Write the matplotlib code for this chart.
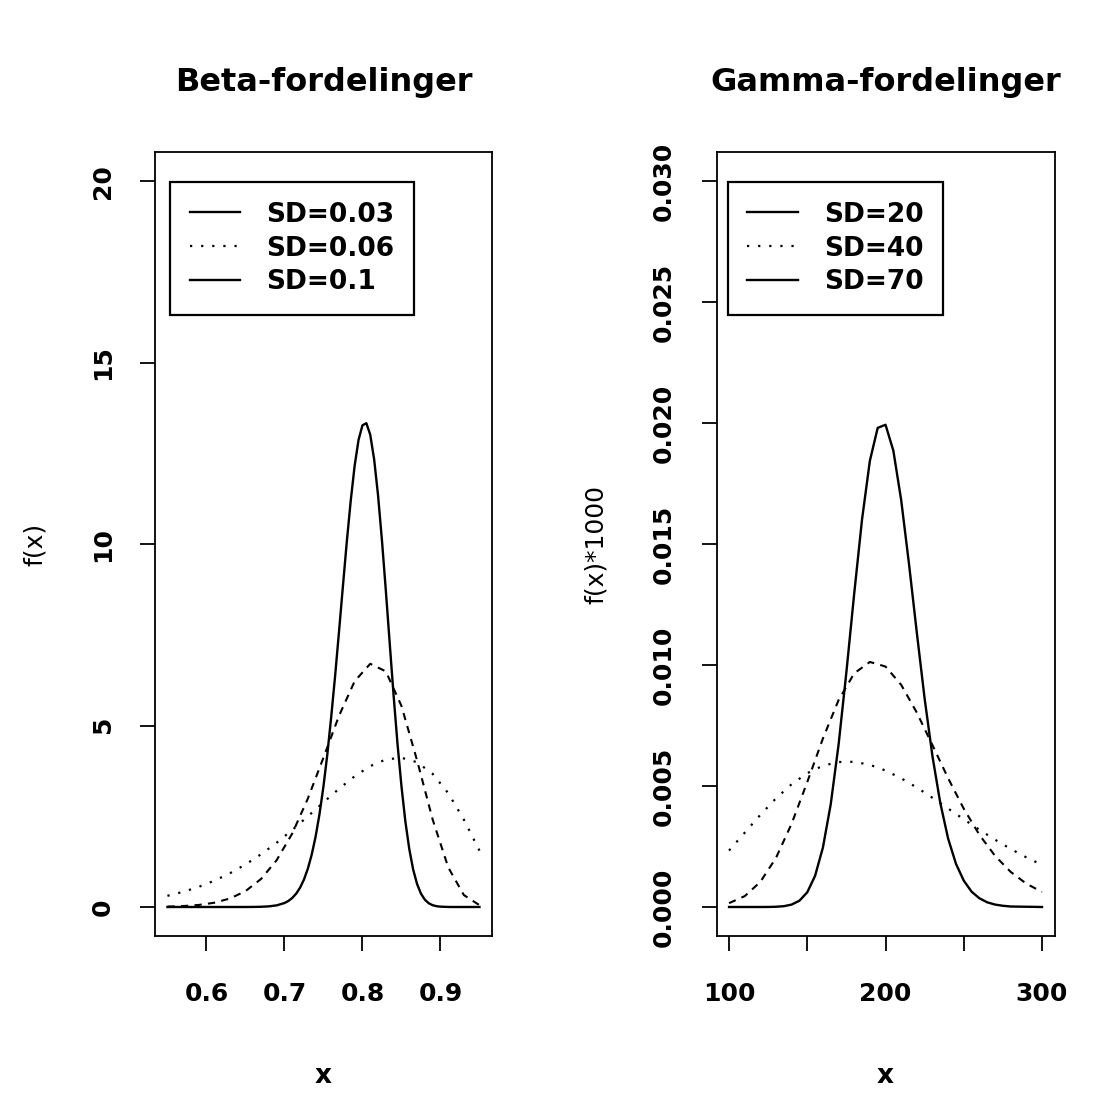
import numpy as np
import matplotlib.pyplot as plt
from matplotlib.lines import Line2D

plt.rcParams['font.family'] = ['DejaVu Sans']
plt.rcParams['axes.linewidth'] = 1.3

#%% Data

# Beta, mean 0.8
beta_x_sd03 = [0.55, 0.60, 0.65, 0.66, 0.67, 0.68, 0.69, 0.70, 0.705, 0.71, 0.715, 0.72,
               0.725, 0.73, 0.735, 0.74, 0.745, 0.75,
               0.755, 0.76, 0.765, 0.77, 0.775, 0.78, 0.785, 0.79, 0.795, 0.80,
               0.805, 0.81, 0.815, 0.82, 0.825, 0.83, 0.835, 0.84, 0.845, 0.85,
               0.855, 0.86, 0.865, 0.87, 0.875, 0.88, 0.885, 0.89, 0.895, 0.90,
               0.91, 0.92, 0.95]
beta_y_sd03 = [0, 0, 0, 0.002, 0.006, 0.017, 0.045, 0.109, 0.166, 0.249, 0.367, 0.531,
               0.756, 1.056, 1.447, 1.944, 2.569, 3.32,
               4.21, 5.25, 6.38, 7.60, 8.85, 10.08, 11.20, 12.16, 12.87, 13.27,
               13.33, 13.01, 12.33, 11.34, 10.10, 8.71, 7.25, 5.81, 4.48, 3.33,
               2.359, 1.60, 1.033, 0.634, 0.368, 0.201, 0.103, 0.049, 0.022, 0.009,
               0.001, 0, 0]

beta_x = [0.55, 0.57, 0.59, 0.61, 0.63, 0.65, 0.67, 0.69, 0.71, 0.73, 0.75,
          0.77, 0.79, 0.81, 0.83, 0.85, 0.87, 0.89, 0.91, 0.93, 0.95]
beta_y_sd06 = [0.0107, 0.0252, 0.056, 0.1175, 0.233, 0.4365, 0.772, 1.289, 2.025, 2.987, 4.115,
               5.269, 6.221, 6.701, 6.491, 5.539, 4.041, 2.410, 1.090, 0.329, 0.0507]
beta_y_sd10 = [0.308, 0.417, 0.553, 0.723, 0.928, 1.171, 1.453, 1.771, 2.122, 2.497, 2.883,
               3.259, 3.602, 3.882, 4.065, 4.112, 3.988, 3.667, 3.135, 2.408, 1.553]
beta_labels = ["SD=0.03", "SD=0.06", "SD=0.1"]

# Gamma, mean 200
gamma_x_sd20 = [100, 120, 125, 130, 135, 140, 145, 150, 155, 160, 165, 170, 175, 180, 185,
                190, 195, 200, 205, 210, 215, 220, 225, 230, 235, 240, 245, 250, 255,
                260, 265, 270, 275, 280, 300]
gamma_y_sd20 = [0, 0, 0.000002, 0.00001, 0.000033, 0.0001, 0.00026, 0.00061, 0.00129,
                0.00246, 0.00425, 0.00671, 0.00971, 0.01296, 0.01602, 0.01844, 0.01980,
                0.01993, 0.01886, 0.01682, 0.01418, 0.01134, 0.00861, 0.00623, 0.00430,
                0.00283, 0.00179, 0.00109, 0.000634, 0.00036, 0.000193, 0.0001,
                0.00005, 0.00002, 0]

gamma_x = [100, 110, 120, 130, 140, 150, 160, 170, 180, 190, 200,
           210, 220, 230, 240, 250, 260, 270, 280, 290, 300]
gamma_y_sd40 = [0.000159, 0.000448, 0.001037, 0.00203, 0.003443, 0.005166, 0.006965,
                0.008551, 0.009657, 0.010127, 0.009937, 0.009182, 0.008034, 0.006688,
                0.005323, 0.004062, 0.002983, 0.002114, 0.00145, 0.000964, 0.000623]
gamma_y_sd70 = [0.002332, 0.00307, 0.003806, 0.004489, 0.005074, 0.00553, 0.005838,
                0.005992, 0.006, 0.005876, 0.005641, 0.005319, 0.004936, 0.004512,
                0.004069, 0.003625, 0.003192, 0.002781, 0.002399, 0.002051, 0.001738]
gamma_labels = ["SD=20", "SD=40", "SD=70"]

#%% Plotting

solid = dict(color='k', lw=1.7, linestyle='-')
dashed = dict(color='k', lw=1.5, linestyle=(0, (3.5, 3)))
dotted = dict(color='k', lw=1.6, linestyle=(0, (1, 4)))

fig = plt.figure(figsize=(11.14, 11.13), dpi=100)
ax1 = fig.add_axes([0.1391, 0.159, 0.3025, 0.7044])
ax2 = fig.add_axes([0.6432, 0.159, 0.3034, 0.7044])

ax1.plot(beta_x_sd03, beta_y_sd03, **solid)
ax1.plot(beta_x, beta_y_sd06, **dashed)
ax1.plot(beta_x, beta_y_sd10, **dotted)
ax1.set_xlim(0.534, 0.966)
ax1.set_ylim(-0.8, 20.8)
ax1.set_xticks([0.6, 0.7, 0.8, 0.9])
ax1.set_xticklabels(["0.6", "0.7", "0.8", "0.9"])
ax1.set_yticks([0, 5, 10, 15, 20])
ax1.set_yticklabels(["0", "5", "10", "15", "20"])
ax1.set_title("Beta-fordelinger", fontsize=23, fontweight='bold', pad=44)
ax1.set_ylabel("f(x)", fontsize=18)
ax1.set_xlabel("x", fontsize=19, fontweight='bold')
ax1.yaxis.set_label_coords(-0.32, 0.5)
ax1.xaxis.set_label_coords(0.5, -0.162)

ax2.plot(gamma_x_sd20, gamma_y_sd20, **solid)
ax2.plot(gamma_x, gamma_y_sd40, **dashed)
ax2.plot(gamma_x, gamma_y_sd70, **dotted)
ax2.set_xlim(92, 308)
ax2.set_ylim(-0.0012, 0.0312)
ax2.set_xticks([100, 150, 200, 250, 300])
ax2.set_xticklabels(["100", "", "200", "", "300"])
ax2.set_yticks([0, 0.005, 0.01, 0.015, 0.02, 0.025, 0.03])
ax2.set_yticklabels(["0.000", "0.005", "0.010", "0.015", "0.020", "0.025", "0.030"])
ax2.set_title("Gamma-fordelinger", fontsize=23, fontweight='bold', pad=44)
ax2.set_ylabel("f(x)*1000", fontsize=18)
ax2.set_xlabel("x", fontsize=19, fontweight='bold')
ax2.yaxis.set_label_coords(-0.32, 0.5)
ax2.xaxis.set_label_coords(0.5, -0.162)

# legend in the original uses solid / dotted / solid
leg_handles = [Line2D([], [], **solid), Line2D([], [], **dotted), Line2D([], [], **solid)]

for ax, labels, lx in [(ax1, beta_labels, 0.045), (ax2, gamma_labels, 0.033)]:
    ax.tick_params(axis='both', length=11, width=1.3, labelsize=18, direction='out')
    ax.tick_params(axis='x', pad=22)
    ax.tick_params(axis='y', pad=18, labelrotation=90)
    for lbl in ax.get_xticklabels() + ax.get_yticklabels():
        lbl.set_fontweight('bold')
    for lbl in ax.get_yticklabels():
        lbl.set_va('center')
    leg = ax.legend(leg_handles, labels, loc='upper left', bbox_to_anchor=(lx, 0.962),
                    prop={'size': 19, 'weight': 'bold'}, frameon=True, fancybox=False,
                    framealpha=1, edgecolor='k', handlelength=1.9, handletextpad=1.0,
                    labelspacing=0.3, borderpad=0.75, borderaxespad=0)
    leg.get_frame().set_linewidth(1.6)

fig.savefig("out.png", dpi=100, facecolor='white')
